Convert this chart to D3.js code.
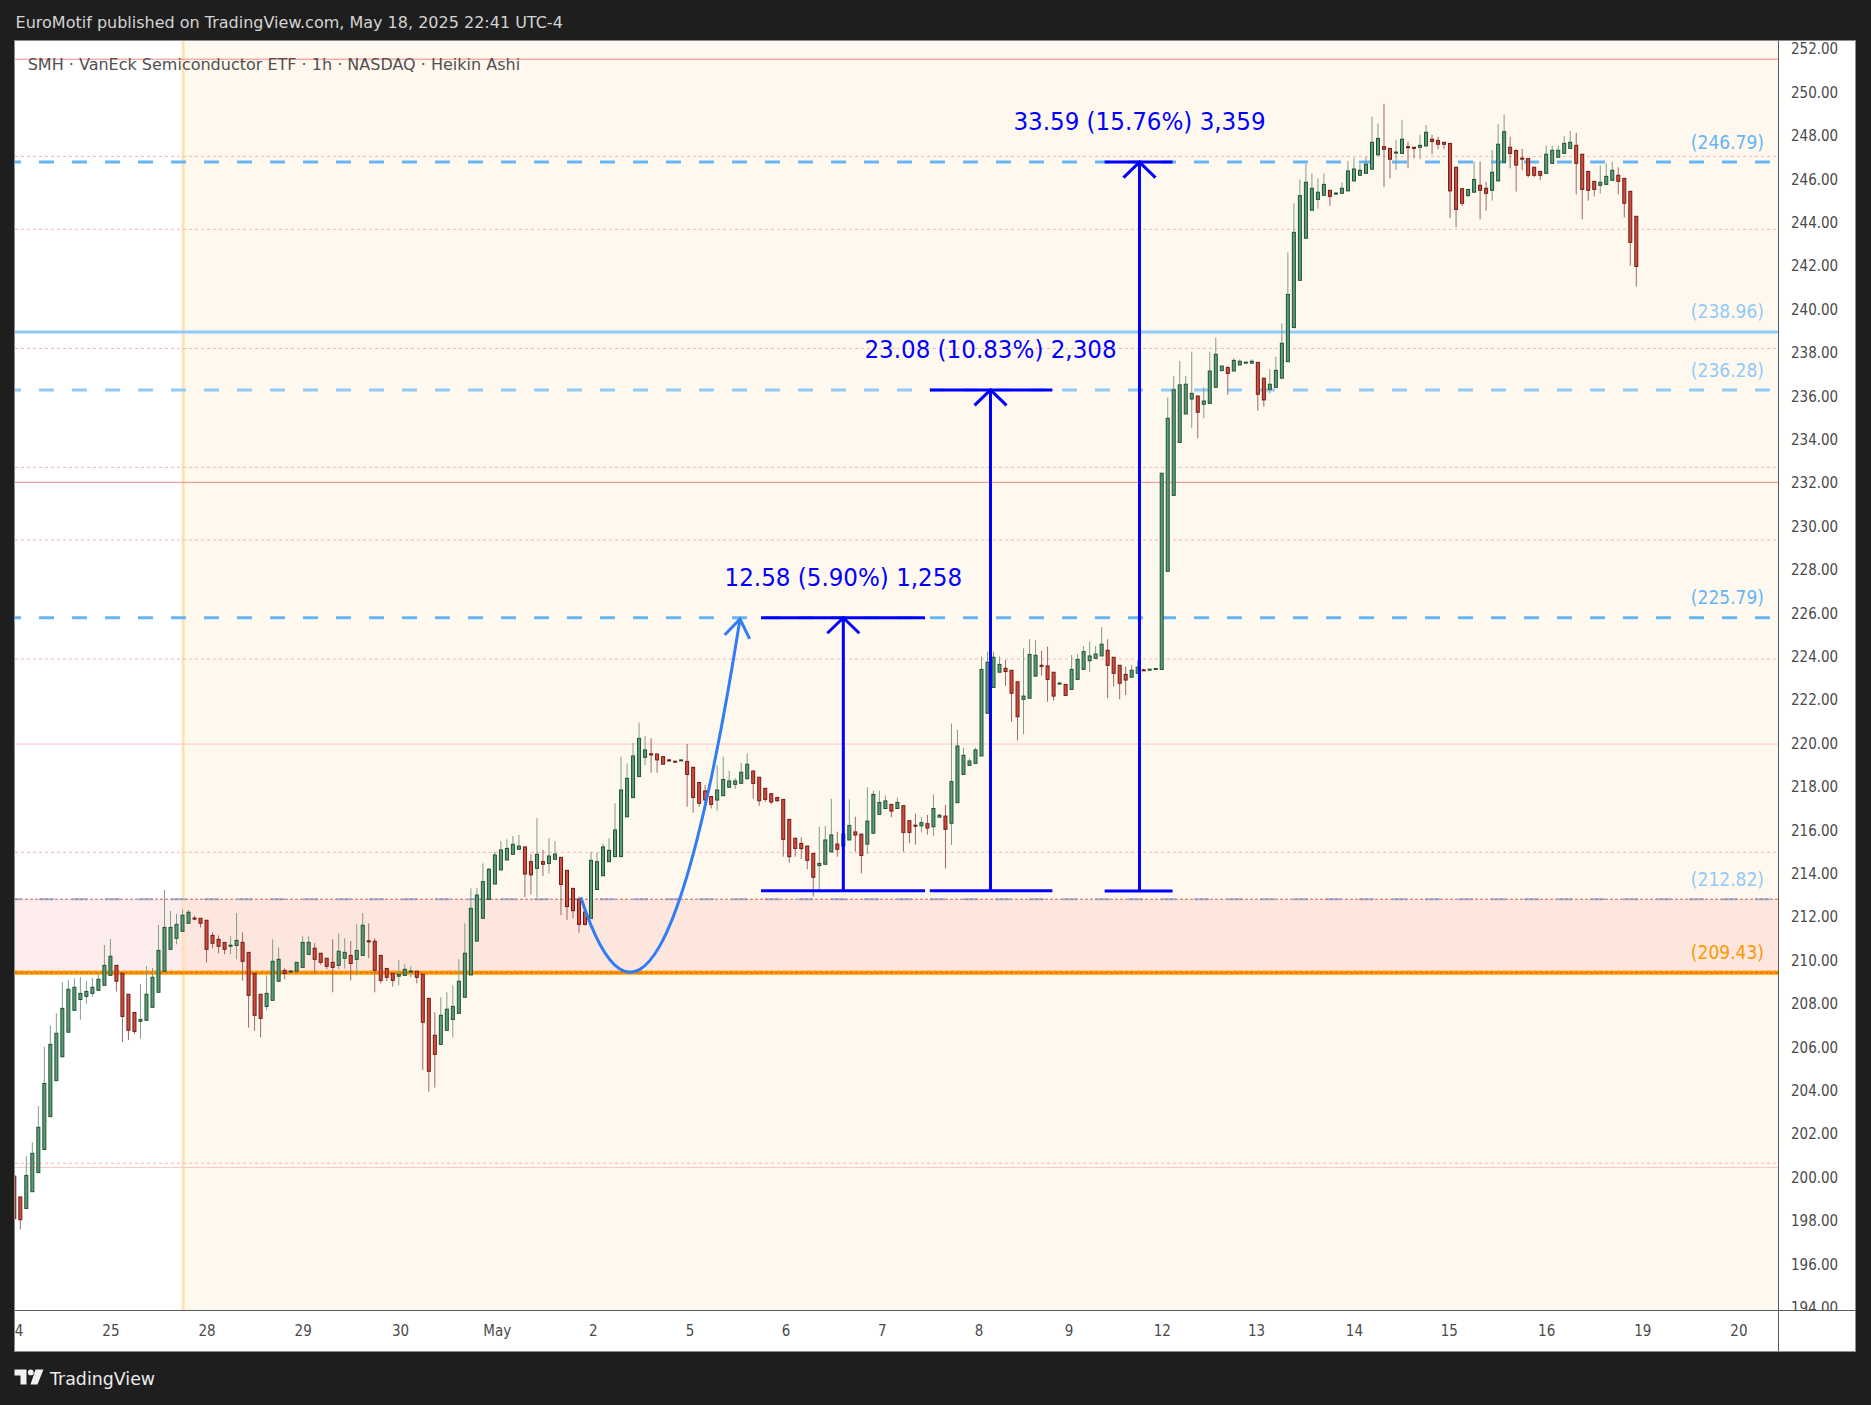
<!DOCTYPE html>
<html><head><meta charset="utf-8">
<script src="https://cdn.jsdelivr.net/npm/d3@7"></script>
<style>
html,body{margin:0;padding:0;background:#1e1e1e;}
svg{display:block;}
text{font-family:"DejaVu Sans Condensed","DejaVu Sans",sans-serif;font-stretch:condensed;}
text.wide{font-family:"DejaVu Sans",sans-serif;font-stretch:normal;}
</style></head><body>
<svg id="chart" width="1871" height="1405"></svg>
<script>
// ---------- DATA ----------
const openP = [200.06,199.1,198.57,199.34,200.22,201.29,202.8,204.46,205.56,206.69,207.7,208.2,208.34,208.48,208.62,208.85,209.31,209.77,209.4,208.44,207.6,207.19,207.24,207.84,208.53,209.5,210.51,211.02,211.34,211.71,211.95,211.94,211.85,211.15,210.97,210.83,210.68,210.69,210.83,210.37,209.4,208.44,207.88,208.16,209.04,209.54,209.49,209.5,209.68,210.28,210.56,210.33,210.1,209.91,209.77,210.1,210.23,210.05,210.23,210.9,210.88,210.23,209.63,209.4,209.27,209.31,209.49,209.5,209.36,208.25,206.55,206.13,206.78,207.28,207.56,208.3,209.33,210.89,211.94,212.81,213.52,214.17,214.63,214.89,215.12,215.23,214.55,214.24,214.55,214.47,214.66,214.75,214.15,213.32,212.81,212.23,211.94,213.27,213.9,214.55,214.78,214.78,216.62,217.5,218.47,219.36,219.52,219.51,219.39,219.24,219.18,219.2,219.17,218.9,218.2,217.81,217.55,217.39,217.59,217.98,218.11,218.16,218.37,218.73,218.44,217.93,217.68,217.51,217.42,216.5,215.63,215.39,215.27,214.93,214.37,214.43,215.0,215.36,215.27,215.55,215.92,215.82,215.36,215.86,216.73,217.0,217.19,217.0,217.13,216.44,216.23,216.2,216.3,216.16,216.6,216.65,216.32,217.27,218.57,218.99,219.08,219.42,221.39,222.58,223.28,223.46,223.37,222.84,222.03,222.08,223.1,223.6,223.57,223.28,222.76,222.72,222.49,222.95,223.41,223.81,223.92,224.03,224.29,223.97,223.6,223.18,223.05,223.23,223.39,223.41,223.43,223.41,227.93,231.43,233.87,235.18,235.87,236.01,235.63,235.67,236.41,237.18,237.32,237.16,237.44,237.55,237.52,237.56,236.83,236.32,236.41,236.83,237.59,239.16,241.34,243.28,244.57,245.07,245.26,245.49,245.34,245.35,245.46,245.92,246.18,246.27,246.46,247.12,247.5,247.42,247.22,247.19,247.5,247.47,247.47,247.53,247.84,247.78,247.7,247.65,246.55,245.56,245.24,245.4,245.72,245.58,245.49,245.92,246.78,247.47,247.32,246.97,246.95,246.55,246.36,246.27,246.73,247.01,247.19,247.42,247.56,247.15,246.36,245.9,245.72,245.76,245.95,246.18,246.04,245.44,244.29];
const highP = [200.3,199.1,200.99,201.63,203.29,206.02,207.0,207.56,209.0,209.1,209.17,209.23,209.05,209.19,209.4,210.71,210.99,209.77,209.4,208.44,207.6,208.91,209.74,209.65,211.63,213.24,212.28,212.14,212.35,212.32,212.06,211.94,211.85,211.29,211.15,210.83,211.11,212.18,211.29,210.37,209.4,208.44,209.31,210.97,210.6,209.63,209.55,209.91,211.11,211.11,210.79,210.33,210.1,210.97,211.25,211.02,210.89,211.66,212.18,211.71,211.02,210.23,209.63,209.4,210.02,209.82,209.73,209.5,209.36,208.25,207.61,208.3,208.53,208.85,210.05,211.71,213.32,213.35,214.47,214.27,215.01,215.5,215.58,215.73,215.78,215.23,214.89,216.55,215.09,215.64,215.5,214.75,214.15,213.32,212.94,212.23,215.01,214.98,215.39,215.63,217.24,219.39,219.08,220.03,220.96,220.34,220.23,219.51,219.39,219.3,219.18,219.25,219.97,218.9,218.2,218.08,217.55,219.0,219.39,218.73,218.4,219.1,219.54,218.73,218.44,217.93,217.68,217.51,217.42,216.5,215.63,215.67,215.27,214.93,216.16,216.19,217.45,215.93,216.65,217.42,216.62,215.82,217.98,217.82,217.82,217.6,217.19,217.5,217.13,216.44,216.77,216.6,216.7,217.65,216.75,217.16,220.92,220.62,219.8,219.3,219.8,224.0,224.23,224.23,224.0,223.84,223.37,222.84,224.38,224.8,224.76,224.27,224.46,223.28,222.85,222.72,224.07,224.12,224.49,224.69,224.49,225.35,224.8,223.97,223.6,223.54,223.62,223.82,223.45,223.43,223.47,232.45,235.93,236.93,237.62,236.93,238.05,236.01,236.4,238.05,238.7,237.4,237.4,237.75,237.7,237.58,237.7,237.56,236.83,237.24,237.82,239.36,242.63,244.89,245.99,246.7,246.27,246.04,246.27,245.49,245.4,245.86,246.84,246.99,246.69,247.04,248.88,248.57,249.47,247.42,247.8,248.73,247.73,247.47,248.04,248.5,248.04,247.96,247.7,247.65,246.55,245.56,245.53,246.81,246.81,245.88,247.35,248.54,248.99,247.96,247.38,247.4,246.95,246.55,246.36,247.55,247.55,247.55,247.99,248.22,248.14,247.15,246.36,245.9,246.64,246.73,246.81,246.55,246.04,245.44,244.29];
const lowP = [197.7,197.6,198.57,199.34,200.22,201.29,202.8,204.46,205.56,206.69,207.7,207.27,208.0,208.33,208.62,208.85,209.31,208.56,206.24,206.33,206.6,206.39,207.24,207.84,208.53,209.5,210.51,210.74,211.34,211.71,211.85,211.51,209.9,210.56,210.33,210.28,210.28,210.05,209.07,206.9,206.76,206.45,207.7,208.16,209.04,209.13,209.45,209.5,209.68,210.28,209.4,209.8,209.59,208.53,209.59,209.62,209.08,209.31,210.23,210.1,208.53,208.94,209.04,208.79,208.85,209.31,209.22,208.94,204.95,203.95,204.14,206.13,206.78,206.45,207.56,208.3,209.33,210.89,211.94,212.81,213.52,214.17,214.63,214.89,215.12,212.91,213.04,212.89,213.89,214.0,214.66,212.09,211.86,211.94,211.28,211.6,211.94,213.27,213.9,214.55,214.78,214.78,216.62,217.5,218.47,219.0,218.65,218.65,219.04,219.15,219.15,219.2,217.08,216.81,217.08,217.2,217.0,216.9,217.59,217.98,217.9,218.16,218.37,217.45,217.12,217.3,217.2,217.3,214.78,214.5,214.78,214.67,214.2,212.94,213.27,214.43,215.0,214.78,215.27,215.55,215.01,214.01,214.9,215.86,216.73,217.0,216.6,217.0,215.01,215.4,215.33,215.9,215.8,215.73,216.6,214.24,215.32,217.27,218.57,218.99,219.08,219.42,221.39,222.58,223.28,222.65,221.0,220.13,220.42,222.08,223.1,223.12,221.92,221.97,222.7,222.21,222.49,222.95,223.41,223.3,223.92,224.03,222.08,222.62,222.03,222.23,223.05,223.23,223.35,223.39,223.43,223.41,227.93,231.43,233.87,235.18,234.52,234.06,234.98,235.67,236.41,237.15,236.06,237.16,237.44,237.54,237.52,235.33,235.52,236.13,236.41,236.83,237.59,239.16,241.34,243.28,244.57,244.65,245.26,244.77,245.3,245.35,245.46,245.92,246.18,246.27,246.46,247.12,245.63,246.04,246.42,247.19,246.5,246.96,246.92,247.53,247.15,247.38,247.38,244.2,243.78,244.76,245.2,245.4,244.15,244.55,245.01,245.92,246.78,246.5,245.43,246.42,246.09,246.09,245.96,246.27,246.73,247.01,247.19,247.42,245.3,244.15,245.01,245.2,245.35,245.76,245.95,245.3,244.24,242.02,241.05];
const closeP = [198.1,198.05,200.09,201.11,202.31,204.33,206.13,206.64,207.79,208.67,208.76,208.48,208.57,208.76,209.13,209.77,210.19,209.04,207.42,206.78,206.73,207.28,208.44,209.22,210.46,211.52,211.52,211.66,212.08,212.22,211.93,211.71,210.51,210.79,210.65,210.51,210.7,210.92,209.96,208.39,207.47,207.33,208.48,209.96,210.05,209.4,209.51,209.91,210.83,210.83,210.05,209.91,209.73,209.68,210.42,210.37,209.86,210.46,211.62,210.88,209.54,209.08,209.22,209.08,209.36,209.59,209.51,209.22,207.15,204.89,205.67,207.47,207.75,207.88,209.04,210.33,212.4,213.01,213.63,214.2,214.86,215.09,215.16,215.35,215.27,213.98,213.94,214.89,214.43,214.81,214.9,213.5,212.48,212.29,211.66,211.66,214.61,214.55,215.23,215.07,216.01,217.85,218.39,219.42,220.23,219.7,219.47,219.24,219.04,219.2,219.16,219.24,218.57,217.51,217.24,217.39,217.19,217.85,218.34,218.27,218.27,218.67,219.04,218.16,217.36,217.42,217.3,217.36,215.58,214.78,215.16,215.15,214.61,213.83,214.47,215.55,215.78,215.12,215.82,216.22,215.78,214.84,216.42,217.65,217.28,217.35,216.88,217.28,215.9,215.9,216.21,216.35,216.1,217.0,216.69,216.04,218.24,219.88,219.45,219.19,219.7,223.41,223.74,223.97,223.64,223.31,222.31,221.23,222.18,224.1,224.06,223.55,222.95,222.18,222.78,222.21,223.41,223.87,224.23,224.03,224.12,224.57,223.6,223.23,222.77,222.92,223.37,223.51,223.37,223.42,223.45,232.45,234.98,236.29,236.52,236.55,236.13,235.26,235.78,237.16,237.93,237.39,237.05,237.65,237.61,237.57,237.61,236.09,235.83,236.55,237.19,238.44,240.69,243.55,245.24,245.86,245.58,245.4,245.76,245.21,245.36,245.58,246.38,246.47,246.41,246.69,247.7,247.88,247.38,246.92,247.25,247.84,247.45,247.42,247.56,248.16,247.74,247.61,247.61,245.46,244.61,244.89,245.53,245.99,245.49,245.35,246.32,247.61,248.19,247.19,246.65,246.95,246.18,246.18,246.18,247.15,247.33,247.33,247.65,247.7,246.73,245.53,245.49,245.53,245.86,246.13,246.41,245.9,244.89,243.09,241.98];

const dayLabels = ["24","25","28","29","30","May","2","5","6","7","8","9","12","13","14","15","16","19","20"];
const dayBarIndex = [0,16,32,48,64.2,80.3,96.3,112.4,128.4,144.4,160.5,175.5,191,206.7,223,238.8,255,271,287];
const priceTicks = [194,196,198,200,202,204,206,208,210,212,214,216,218,220,222,224,226,228,230,232,234,236,238,240,242,244,246,248,250,252];

const levelValues = [246.79, 238.96, 236.28, 225.79, 212.82, 209.43];
const levelLabels = ["(246.79)","(238.96)","(236.28)","(225.79)","(212.82)","(209.43)"];
const pivotSolidValues = [251.53, 232.03, 219.97, 200.46];
const pivotDottedValues = [247.05, 243.69, 238.2, 232.72, 229.37, 223.89, 214.98, 209.52, 200.65];

const zoneTop = 212.82, zoneBottom = 209.43;
const sessionStartBar = 28.1;

const measureBar = [138.0, 162.5, 187.3];
const measureLeft = [124.3, 152.4, 181.5];
const measureRight = [151.6, 172.8, 192.8];
const measureBase = [213.21, 213.21, 213.20];
const measureTop = [225.79, 236.29, 246.79];
const measureText = ["12.58 (5.90%) 1,258", "23.08 (10.83%) 2,308", "33.59 (15.76%) 3,359"];

const curveBars = [94.3, 107.2, 120.8];
const curvePrices = [212.91, 201.95, 225.73];

// ---------- LAYOUT ----------
const svg = d3.select("#chart");
const P = {left: 15, right: 1778, top: 41, bottom: 1310};
const x = d3.scaleLinear().domain([0, 270]).range([14.3, 1636.3]);
const y = d3.scaleLinear().domain([194, 252]).range([1307.6, 49]);

svg.append("rect").attr("width", 1871).attr("height", 1405).attr("fill", "#1e1e1e");
svg.append("rect").attr("x", 14.5).attr("y", 40.5).attr("width", 1841).attr("height", 1311)
  .attr("fill", "#ffffff").attr("stroke", "#8c8c8c");

const defs = svg.append("defs");
defs.append("clipPath").attr("id", "plotClip").append("rect")
  .attr("x", P.left).attr("y", P.top).attr("width", P.right - P.left).attr("height", P.bottom - P.top);
defs.append("clipPath").attr("id", "yClip").append("rect")
  .attr("x", P.right).attr("y", P.top).attr("width", 80).attr("height", P.bottom - P.top);
defs.append("clipPath").attr("id", "xClip").append("rect")
  .attr("x", P.left).attr("y", P.bottom).attr("width", P.right - P.left).attr("height", 42);

const plot = svg.append("g").attr("clip-path", "url(#plotClip)");

// session background (cream)
plot.append("rect").attr("x", x(sessionStartBar)).attr("y", P.top)
  .attr("width", P.right - x(sessionStartBar)).attr("height", P.bottom - P.top).attr("fill", "#fff8ef");
// zone
plot.append("rect").attr("x", P.left).attr("y", y(zoneTop)).attr("width", P.right - P.left)
  .attr("height", y(zoneBottom) - y(zoneTop)).attr("fill", "rgba(232,90,80,0.11)");
// session vertical line
plot.append("line").attr("x1", x(sessionStartBar)).attr("x2", x(sessionStartBar))
  .attr("y1", P.top).attr("y2", P.bottom).attr("stroke", "#ffe1b9").attr("stroke-width", 3);

// pivot lines
plot.selectAll("line.pd").data(pivotDottedValues).join("line").attr("class", "pd")
  .attr("x1", P.left).attr("x2", P.right).attr("y1", d => y(d)).attr("y2", d => y(d))
  .attr("stroke", "#f3b6b3").attr("stroke-width", 1).attr("stroke-dasharray", "3,3");
plot.selectAll("line.ps").data(pivotSolidValues).join("line").attr("class", "ps")
  .attr("x1", P.left).attr("x2", P.right).attr("y1", d => y(d)).attr("y2", d => y(d))
  .attr("stroke", (d, i) => i < 2 ? "#f08a86" : "#f8c6c6").attr("stroke-width", 1);

// level lines
const levelStyle = [
  {c: "#64b5f6", w: 3, dash: "15,18"},
  {c: "#90caf9", w: 3, dash: null},
  {c: "#90caf9", w: 3, dash: "15,18"},
  {c: "#64b5f6", w: 3, dash: "15,18"},
  {c: "#90bdf0", w: 2, dash: "15,18"},
  {c: "#ff9800", w: 4, dash: null}
];
const labelColor = ["#64b5f6","#90caf9","#90caf9","#64b5f6","#90caf9","#ff9800"];
levelValues.forEach((v, i) => {
  const s = levelStyle[i];
  const ln = plot.append("line").attr("x1", P.left).attr("x2", P.right).attr("y1", y(v)).attr("y2", y(v))
    .attr("stroke", s.c).attr("stroke-width", s.w);
  if (s.dash) ln.attr("stroke-dasharray", s.dash).attr("stroke-dashoffset", 9);
});
plot.append("line").attr("x1", P.left).attr("x2", P.right).attr("y1", y(levelValues[4])).attr("y2", y(levelValues[4]))
  .attr("stroke", "#de5b57").attr("stroke-width", 1).attr("stroke-dasharray", "3,2");
plot.append("line").attr("x1", P.left).attr("x2", P.right).attr("y1", y(levelValues[5])).attr("y2", y(levelValues[5]))
  .attr("stroke", "#d86a00").attr("stroke-width", 1.2).attr("stroke-dasharray", "3,2");

// candles
const candles = openP.map((o, i) => ({i, o, h: highP[i], l: lowP[i], c: closeP[i]}));
const up = d => d.c >= d.o;
plot.append("g").selectAll("line").data(candles).join("line")
  .attr("x1", d => x(d.i)).attr("x2", d => x(d.i))
  .attr("y1", d => y(d.h)).attr("y2", d => y(d.l))
  .attr("stroke", d => up(d) ? "#7f9e89" : "#9c6a62").attr("stroke-width", 1);
plot.append("g").selectAll("rect").data(candles).join("rect")
  .attr("x", d => x(d.i) - 1.5).attr("width", 3)
  .attr("y", d => y(Math.max(d.o, d.c)))
  .attr("height", d => Math.max(1, y(Math.min(d.o, d.c)) - y(Math.max(d.o, d.c))))
  .attr("fill", d => up(d) ? "#5c9c76" : "#d34c3c")
  .attr("stroke", d => up(d) ? "#1e5234" : "#6e1b15").attr("stroke-width", 1);

// curve arrow
const cp = curveBars.map((b, i) => [x(b), y(curvePrices[i])]);
plot.append("path")
  .attr("d", `M${cp[0][0]},${cp[0][1]} Q${cp[1][0]},${cp[1][1]} ${cp[2][0]},${cp[2][1]}`)
  .attr("fill", "none").attr("stroke", "#2f7df6").attr("stroke-width", 3);
{
  const tx = cp[2][0] - cp[1][0], ty = cp[2][1] - cp[1][1];
  const len = Math.hypot(tx, ty), ux = -tx / len, uy = -ty / len;
  const L = 22, a = 35 * Math.PI / 180;
  const w1 = [cp[2][0] + L * (ux * Math.cos(a) - uy * Math.sin(a)), cp[2][1] + L * (ux * Math.sin(a) + uy * Math.cos(a))];
  const w2 = [cp[2][0] + L * (ux * Math.cos(-a) - uy * Math.sin(-a)), cp[2][1] + L * (ux * Math.sin(-a) + uy * Math.cos(-a))];
  plot.append("path").attr("d", `M${w1[0]},${w1[1]} L${cp[2][0]},${cp[2][1]} L${w2[0]},${w2[1]}`)
    .attr("fill", "none").attr("stroke", "#2f7df6").attr("stroke-width", 3);
}

// measure annotations
const mBlue = "#0000ff";
measureBar.forEach((b, i) => {
  const g = plot.append("g").attr("stroke", mBlue).attr("stroke-width", 3).attr("fill", "none");
  const xv = x(b), yb = y(measureBase[i]), yt = y(measureTop[i]);
  g.append("line").attr("x1", x(measureLeft[i])).attr("x2", x(measureRight[i])).attr("y1", yb).attr("y2", yb);
  g.append("line").attr("x1", x(measureLeft[i])).attr("x2", x(measureRight[i])).attr("y1", yt).attr("y2", yt);
  g.append("line").attr("x1", xv).attr("x2", xv).attr("y1", yb).attr("y2", yt);
  g.append("path").attr("d", `M${xv - 16},${yt + 15.5} L${xv},${yt} L${xv + 16},${yt + 15.5}`);
  plot.append("text").attr("x", xv).attr("y", yt - 32).attr("text-anchor", "middle")
    .attr("font-size", 25.6).attr("fill", mBlue).text(measureText[i]);
});

// level labels
levelValues.forEach((v, i) => {
  plot.append("text").attr("x", 1764).attr("y", y(v) - 13.5).attr("text-anchor", "end")
    .attr("font-size", 19).attr("fill", labelColor[i]).text(levelLabels[i]);
});

// title
plot.append("text").attr("class", "wide").attr("x", 27.7).attr("y", 70).attr("font-size", 16).attr("fill", "#505050")
  .text("SMH · VanEck Semiconductor ETF · 1h · NASDAQ · Heikin Ashi");

// axes
const yAxis = svg.append("g").attr("clip-path", "url(#yClip)").append("g")
  .attr("transform", `translate(${P.right},0)`)
  .call(d3.axisRight(y).tickValues(priceTicks).tickFormat(d => d.toFixed(2)).tickSize(0).tickPadding(13));
yAxis.select(".domain").remove();
yAxis.selectAll("text").attr("font-size", 15).attr("fill", "#4a4a4a")
  .attr("font-family", "'DejaVu Sans Condensed','DejaVu Sans',sans-serif");

const xAxis = svg.append("g").attr("clip-path", "url(#xClip)").append("g")
  .attr("transform", `translate(0,${P.bottom})`)
  .call(d3.axisBottom(x).tickValues(dayBarIndex).tickFormat((d, i) => dayLabels[i]).tickSize(0).tickPadding(15));
xAxis.select(".domain").remove();
xAxis.selectAll("text").attr("font-size", 15).attr("fill", "#4a4a4a")
  .attr("font-family", "'DejaVu Sans Condensed','DejaVu Sans',sans-serif");

// separators
svg.append("line").attr("x1", P.right + 0.5).attr("x2", P.right + 0.5).attr("y1", 40.5).attr("y2", 1351.5)
  .attr("stroke", "#5a5a5a").attr("stroke-width", 1);
svg.append("line").attr("x1", 14.5).attr("x2", 1855.5).attr("y1", P.bottom + 0.5).attr("y2", P.bottom + 0.5)
  .attr("stroke", "#5a5a5a").attr("stroke-width", 1);

// header
svg.append("text").attr("class", "wide").attr("x", 15.6).attr("y", 28.3).attr("font-size", 16).attr("fill", "#d4d4d4")
  .text("EuroMotif published on TradingView.com, May 18, 2025 22:41 UTC-4");

// footer logo + text
const logo = svg.append("g").attr("fill", "#f0f0f0");
logo.append("path").attr("d", "M14.5,1369.5 H26.5 V1384.5 H20.5 V1375.5 H14.5 Z");
logo.append("circle").attr("cx", 30.8).attr("cy", 1372.4).attr("r", 2.9);
logo.append("path").attr("d", "M35.5,1369.5 H43.5 L37.5,1384.5 H30.5 Z");
svg.append("text").attr("class", "wide").attr("x", 50).attr("y", 1385).attr("font-size", 17.4).attr("fill", "#ececec").text("TradingView");
</script>
</body></html>
